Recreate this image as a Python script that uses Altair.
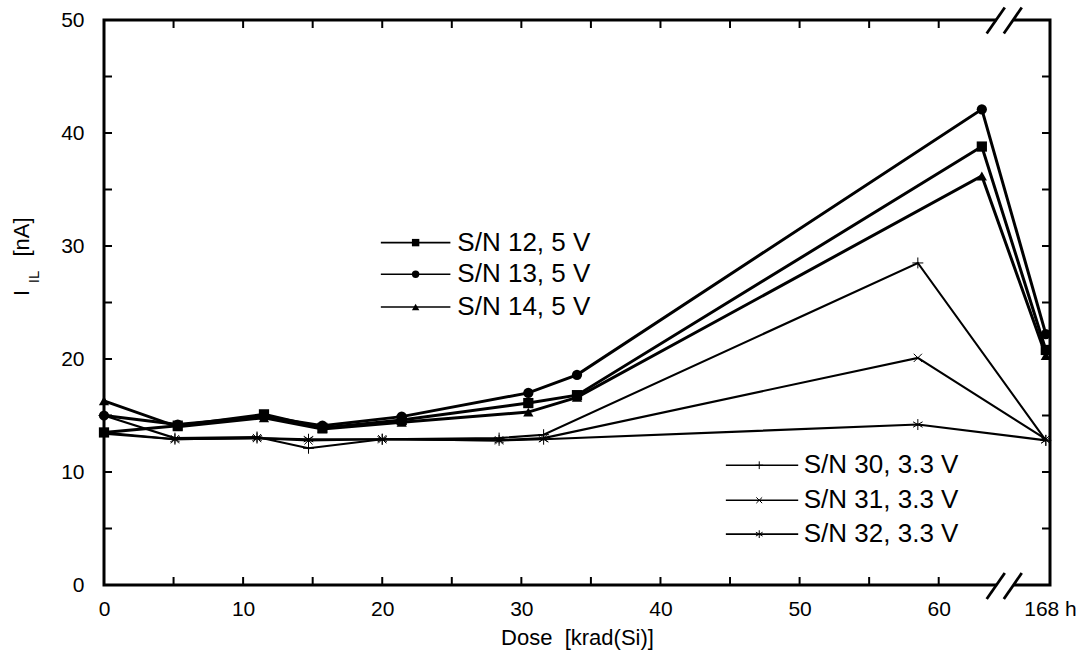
import altair as alt
import pandas as pd

# ---- data ----
series_names = ["S/N 12, 5 V", "S/N 13, 5 V", "S/N 14, 5 V",
                "S/N 30, 3.3 V", "S/N 31, 3.3 V", "S/N 32, 3.3 V"]
dose_5v = [0, 5.3, 11.5, 15.7, 21.4, 30.5, 34.0, 63.1, 67.7]
dose_33v = [0, 5.1, 11.0, 14.7, 20.0, 28.4, 31.6, 58.5, 67.7]
sn12 = [13.5, 14.1, 15.1, 13.9, 14.6, 16.1, 16.8, 38.8, 20.8]
sn13 = [15.0, 14.2, 14.9, 14.1, 14.9, 17.0, 18.6, 42.1, 22.2]
sn14 = [16.3, 14.0, 14.8, 13.8, 14.4, 15.3, 16.6, 36.2, 20.3]
sn30 = [15.0, 13.0, 13.1, 12.1, 12.9, 13.0, 13.3, 28.5, 12.8]
sn31 = [13.5, 12.9, 13.0, 12.8, 12.9, 12.8, 13.0, 20.1, 12.9]
sn32 = [13.4, 12.9, 13.0, 12.9, 12.9, 12.8, 12.9, 14.2, 12.8]

x_tick_values = [0, 10, 20, 30, 40, 50, 60, 68]
minor_x = [5, 10, 15, 20, 25, 30, 35, 40, 45, 50, 55, 60]
minor_y = [5, 10, 15, 20, 25, 30, 35, 40, 45]
y_tick_values = [0, 10, 20, 30, 40, 50]

rows = []
for name, xs, ys in [(series_names[0], dose_5v, sn12), (series_names[1], dose_5v, sn13),
                     (series_names[2], dose_5v, sn14), (series_names[3], dose_33v, sn30),
                     (series_names[4], dose_33v, sn31), (series_names[5], dose_33v, sn32)]:
    grp = "3.3V" if "3.3" in name else "5V"
    for i, (a, b) in enumerate(zip(xs, ys)):
        rows.append({"series": name, "group": grp, "dose": a, "cur": b, "order": i})
df = pd.DataFrame(rows)

# legend table (positions in data units of the chart)
leg = pd.DataFrame({
    "series": series_names,
    "group": ["5V", "5V", "5V", "3.3V", "3.3V", "3.3V"],
    "x0": [19.9, 19.9, 19.9, 44.7, 44.7, 44.7],
    "x1": [24.9, 24.9, 24.9, 49.9, 49.9, 49.9],
    "xm": [22.4, 22.4, 22.4, 47.1, 47.1, 47.1],
    "xt": [25.4, 25.4, 25.4, 50.3, 50.3, 50.3],
    "yy": [30.3, 27.5, 24.6, 10.6, 7.5, 4.5],
})

W, H = 946, 565
FONT = "Liberation Sans"
NB = "\u00a0"
xs_ = alt.Scale(domain=[0, 68], nice=False, zero=False)
ys_ = alt.Scale(domain=[0, 50], nice=False)

shape_range = ["square", "circle", "triangle-up",
               "M-1,0L1,0M0,-1L0,1",
               "M-0.75,-0.75L0.75,0.75M-0.75,0.75L0.75,-0.75",
               "M0,-1L0,1M-0.87,-0.5L0.87,0.5M-0.87,0.5L0.87,-0.5"]
shape_scale = alt.Scale(domain=series_names, range=shape_range)
sw_scale = alt.Scale(domain=series_names, range=[1, 1, 1, 1.6, 1.6, 2.8])

X = alt.X("dose:Q", scale=xs_,
          axis=alt.Axis(values=x_tick_values, ticks=False, domain=False, grid=False,
                        labelExpr="datum.value == 68 ? '168 h' : datum.label",
                        labelOverlap=False, labelFlush=False, labelFontSize=21, labelFont=FONT,
                        labelColor="black", labelPadding=13,
                        title="Dose" + NB + NB + "[krad(Si)]", titleFont=FONT,
                        titleFontSize=22, titleFontWeight="normal", titleColor="black",
                        titlePadding=8))
Y = alt.Y("cur:Q", scale=ys_,
          axis=alt.Axis(values=y_tick_values, ticks=False, domain=False, grid=False,
                        labelFontSize=21, labelFont=FONT, labelColor="black",
                        labelPadding=20, title=None))

base = alt.Chart(df)
lines5 = base.transform_filter("datum.group == '5V'").mark_line(
    color="black", strokeWidth=3).encode(x=X, y=Y, detail="series:N", order="order:Q")
lines33 = base.transform_filter("datum.group == '3.3V'").mark_line(
    color="black", strokeWidth=2.1).encode(x=X, y=Y, detail="series:N", order="order:Q")
pts5 = base.transform_filter("datum.group == '5V'").mark_point(
    filled=True, color="black", opacity=1, size=105).encode(
    x=X, y=Y, shape=alt.Shape("series:N", scale=shape_scale, legend=None))
pts33 = base.transform_filter("datum.group == '3.3V'").mark_point(
    filled=False, color="black", opacity=1, size=120).encode(
    x=X, y=Y, shape=alt.Shape("series:N", scale=shape_scale, legend=None),
    strokeWidth=alt.StrokeWidth("series:N", scale=sw_scale, legend=None))

lb = alt.Chart(leg)
leg_lines = lb.mark_rule(color="black", strokeWidth=1.6).encode(
    x=alt.X("x0:Q", scale=xs_), x2="x1:Q", y=alt.Y("yy:Q", scale=ys_))
leg_pts5 = lb.transform_filter("datum.group == '5V'").mark_point(
    filled=True, color="black", opacity=1, size=55).encode(
    x=alt.X("xm:Q", scale=xs_), y=alt.Y("yy:Q", scale=ys_),
    shape=alt.Shape("series:N", scale=shape_scale, legend=None))
leg_pts33 = lb.transform_filter("datum.group == '3.3V'").mark_point(
    filled=False, color="black", opacity=1, size=60).encode(
    x=alt.X("xm:Q", scale=xs_), y=alt.Y("yy:Q", scale=ys_),
    shape=alt.Shape("series:N", scale=shape_scale, legend=None),
    strokeWidth=alt.StrokeWidth("series:N", scale=sw_scale, legend=None))
leg_txt = lb.mark_text(align="left", baseline="middle", font=FONT, fontSize=26,
                       color="black").encode(
    x=alt.X("xt:Q", scale=xs_), y=alt.Y("yy:Q", scale=ys_), text="series:N")

# inward ticks on all four sides
tx = pd.DataFrame({"v": minor_x})
ty = pd.DataFrame({"v": minor_y})
tick_b = alt.Chart(tx).mark_rule(color="black", strokeWidth=2).encode(
    x=alt.X("v:Q", scale=xs_), y=alt.value(H), y2=alt.value(H - 8))
tick_t = alt.Chart(tx).mark_rule(color="black", strokeWidth=2).encode(
    x=alt.X("v:Q", scale=xs_), y=alt.value(0), y2=alt.value(8))
tick_l = alt.Chart(ty).mark_rule(color="black", strokeWidth=2).encode(
    y=alt.Y("v:Q", scale=ys_), x=alt.value(0), x2=alt.value(8))
tick_r = alt.Chart(ty).mark_rule(color="black", strokeWidth=2).encode(
    y=alt.Y("v:Q", scale=ys_), x=alt.value(W), x2=alt.value(W - 8))

# axis break marks
gap = pd.DataFrame({"a": [64.15, 64.15], "b": [65.4, 65.4], "y": [0, 50]})
gaps = alt.Chart(gap).mark_rule(color="white", strokeWidth=6).encode(
    x=alt.X("a:Q", scale=xs_), x2="b:Q", y=alt.Y("y:Q", scale=ys_))
brk = pd.DataFrame({
    "xa": [63.45, 64.68, 63.45, 64.68], "xb": [64.75, 65.97, 64.75, 65.97],
    "ya": [-1.24, -1.24, 48.8, 48.8], "yb": [1.06, 1.06, 51.1, 51.1]})
breaks = alt.Chart(brk).mark_rule(color="black", strokeWidth=2.8).encode(
    x=alt.X("xa:Q", scale=xs_), x2="xb:Q", y=alt.Y("ya:Q", scale=ys_), y2="yb:Q")

# y-axis title with subscript
yt = alt.Chart(pd.DataFrame({"t": ["I"]})).mark_text(
    angle=270, font=FONT, fontSize=22, color="black", baseline="middle", align="center").encode(
    text="t:N", x=alt.value(-82), y=alt.value(273))
yt_sub = alt.Chart(pd.DataFrame({"t": ["IL"]})).mark_text(
    angle=270, font=FONT, fontSize=15, color="black", baseline="middle", align="center").encode(
    text="t:N", x=alt.value(-70), y=alt.value(257))
yt_unit = alt.Chart(pd.DataFrame({"t": ["[nA]"]})).mark_text(
    angle=270, font=FONT, fontSize=22, color="black", baseline="middle", align="center").encode(
    text="t:N", x=alt.value(-82), y=alt.value(217))

chart = alt.layer(
    lines33, lines5, pts33, pts5,
    leg_lines, leg_pts5, leg_pts33, leg_txt,
    tick_b, tick_t, tick_l, tick_r, gaps, breaks,
    yt, yt_sub, yt_unit,
).properties(
    width=W, height=H,
    autosize=alt.AutoSizeParams(type="none"),
    padding={"left": 104, "top": 20, "right": 35, "bottom": 81},
    background="white",
).configure_view(stroke="black", strokeWidth=3)

chart.save("out.html", embed_options={"renderer": "svg", "actions": False})
